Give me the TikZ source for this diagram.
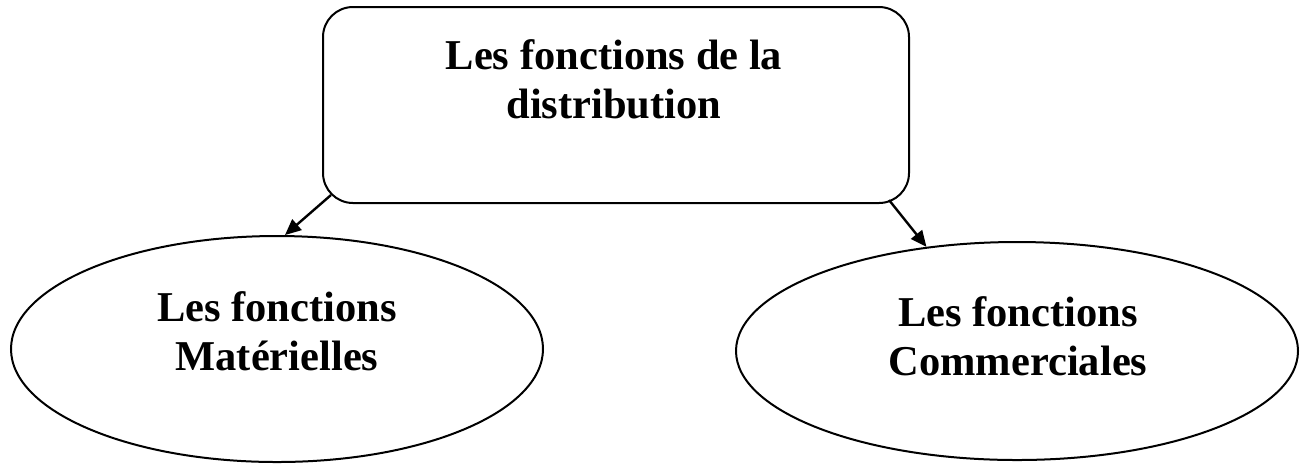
\documentclass[tikz,border=0pt]{standalone}
\usepackage{fontspec}
\setmainfont{Liberation Serif}
\usetikzlibrary{shapes.geometric,arrows.meta,calc}
\begin{document}
\begin{tikzpicture}[x=0.5pt,y=-0.5pt,
  shapeline/.style={draw=black,line width=1pt},
  ellbox/.style={shapeline,ellipse,inner sep=0pt},
  titlebox/.style={shapeline,rectangle,rounded corners=15pt,inner sep=0pt,minimum width=293pt,minimum height=98pt},
  lbl/.style={align=center,inner sep=0pt,font=\fontsize{21.25pt}{24.5pt}\selectfont\bfseries},
  arr/.style={line width=1.2pt,-{Triangle[length=8pt,width=7pt]}}]
\useasboundingbox (0,0) rectangle (1300,463);
\node[titlebox] (T) at (616,105) {};
\node[lbl] (Tt) at (614,79) {Les fonctions de la\\distribution};
\node[ellbox,minimum width=266pt,minimum height=113pt] (L) at (277,349) {};
\node[lbl] (Lt) at (277,331) {Les fonctions\\Matérielles};
\node[ellbox,minimum width=281pt,minimum height=109pt] (R) at (1017,351) {};
\node[lbl] (Rt) at (1018,336) {Les fonctions\\Commerciales};
\draw[arr] ($(T.south west)+(9,-9)$) -- (L.86);
\draw[arr] ($(T.south east)+(-21,-4)$) -- (R.131);
\end{tikzpicture}
\end{document}
